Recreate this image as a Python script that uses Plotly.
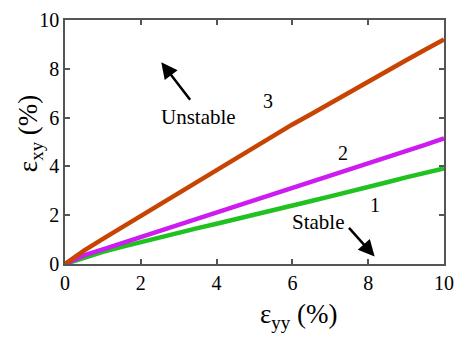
import plotly.graph_objects as go

# strain values (%)
eps_yy = [0, 0.5, 1, 1.5, 2, 2.5, 3, 3.5, 4, 4.5, 5, 5.5, 6, 6.5, 7, 7.5, 8, 8.5, 9, 9.5, 10]
curve1 = [0, 0.25, 0.5, 0.7, 0.9, 1.1, 1.28, 1.47, 1.65, 1.83, 2.0, 2.2, 2.4, 2.58, 2.77, 2.95, 3.15, 3.35, 3.55, 3.74, 3.92]
curve2 = [0, 0.35, 0.6, 0.85, 1.1, 1.35, 1.6, 1.85, 2.1, 2.35, 2.6, 2.85, 3.1, 3.35, 3.6, 3.85, 4.1, 4.35, 4.6, 4.88, 5.15]
curve3 = [0, 0.55, 1.03, 1.5, 1.98, 2.45, 2.93, 3.4, 3.88, 4.34, 4.8, 5.26, 5.72, 6.15, 6.6, 7.02, 7.45, 7.9, 8.35, 8.78, 9.2]

ticks = [0, 2, 4, 6, 8, 10]
serif = "Liberation Serif, Times New Roman, serif"

W, H = 463, 343
L, R, T, B = 65, 16, 9, 79
pw, ph = W - L - R, H - T - B

fig = go.Figure()
for ys, col in [(curve1, "#1fc21f"), (curve2, "#cc1cf0"), (curve3, "#c84402")]:
    fig.add_trace(go.Scatter(x=eps_yy, y=ys, mode="lines",
                             line=dict(color=col, width=4.5), showlegend=False))

axis_style = dict(
    range=[0, 10], tickvals=ticks, ticks="inside", ticklen=5, tickwidth=1.5,
    tickcolor="#555", showline=True, linecolor="#555", linewidth=1.5,
    mirror="ticks", showgrid=False, zeroline=False,
    tickfont=dict(family=serif, size=20, color="black"),
)

arrow = dict(text="", showarrow=True, arrowhead=2, arrowsize=1.3,
             arrowwidth=2.5, arrowcolor="black", standoff=0)

fig.update_layout(
    width=W, height=H,
    margin=dict(l=L, r=R, t=T, b=B),
    plot_bgcolor="white", paper_bgcolor="white",
    xaxis=dict(axis_style),
    yaxis=dict(axis_style),
    font=dict(family=serif, color="black"),
    annotations=[
        # axis titles
        dict(x=(300 - L) / pw, y=(264 - 318) / ph, xref="paper", yref="paper",
             xanchor="center", yanchor="middle",
             text="ε<sub>yy</sub> (%)", showarrow=False, font=dict(size=27)),
        dict(x=(30 - L) / pw, y=(264 - 128) / ph, xref="paper", yref="paper",
             xanchor="center", yanchor="middle",
             text="ε<sub>xy</sub> (%)", textangle=-90, showarrow=False, font=dict(size=27)),
        # curve labels
        dict(x=5.36, y=6.7, text="3", showarrow=False, font=dict(size=20)),
        dict(x=7.33, y=4.55, text="2", showarrow=False, font=dict(size=20)),
        dict(x=8.19, y=2.43, text="1", showarrow=False, font=dict(size=20)),
        dict(x=3.53, y=6.04, text="Unstable", showarrow=False, font=dict(size=21)),
        dict(x=6.68, y=1.73, text="Stable", showarrow=False, font=dict(size=21)),
        # arrows
        dict(arrow, x=2.54, y=8.27, ax=30, ay=39),
        dict(arrow, x=8.17, y=0.31, ax=-27, ay=-30),
    ],
)

fig.write_html("out.html", config=dict(displayModeBar=False),
               post_script="document.body.style.margin='0';document.body.style.overflow='hidden';")
